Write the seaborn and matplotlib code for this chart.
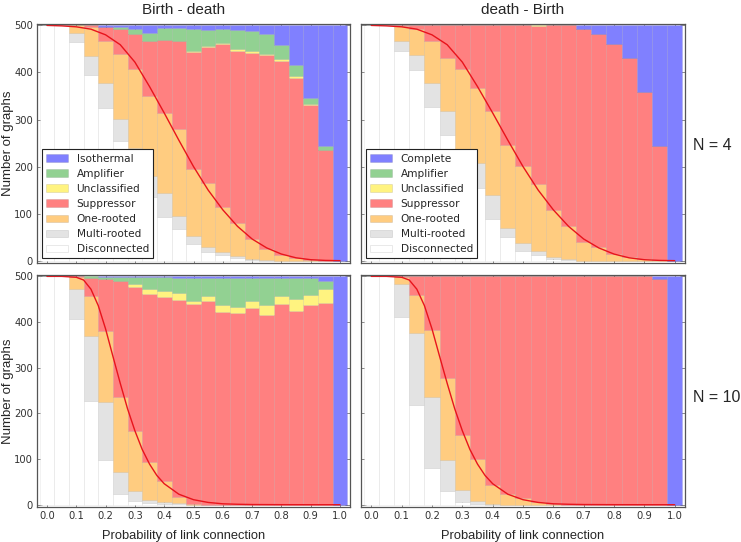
import matplotlib
matplotlib.use("Agg")
import matplotlib.pyplot as plt
import numpy as np
import pandas as pd
import seaborn as sns

# bin centres (probability of link connection)
link_prob = [0.0, 0.05, 0.1, 0.15, 0.2, 0.25, 0.3, 0.35, 0.4, 0.45, 0.5,
             0.55, 0.6, 0.65, 0.7, 0.75, 0.8, 0.85, 0.9, 0.95, 1.0]

# Birth - death, N = 4
bd4_disconnected = [500, 500, 465, 394, 324, 254, 190, 135, 92, 67, 35, 18, 11, 5, 2, 0, 0, 0, 0, 0, 0]
bd4_multi = [0, 0, 18, 41, 53, 47, 50, 45, 52, 28, 18, 10, 8, 4, 1, 1, 0, 0, 0, 0, 0]
bd4_one = [0, 0, 17, 62, 90, 138, 168, 169, 169, 185, 142, 137, 96, 71, 43, 24, 11, 5, 2, 0, 0]
bd4_suppressor = [0, 0, 0, 3, 30, 54, 74, 118, 155, 186, 249, 289, 346, 365, 395, 413, 413, 384, 329, 236, 0]
bd4_unclassified = [0, 0, 0, 0, 0, 0, 0, 0, 0, 0, 1, 2, 2, 4, 4, 2, 5, 3, 3, 0, 0]
bd4_amplifier = [0, 0, 0, 0, 0, 3, 11, 17, 26, 28, 48, 35, 30, 41, 43, 42, 29, 23, 11, 7, 0]
bd4_isothermal = [0, 0, 0, 0, 3, 4, 7, 16, 6, 6, 7, 9, 7, 10, 12, 18, 42, 85, 155, 257, 500]

# death - Birth, N = 4
db4_disconnected = [500, 500, 446, 405, 326, 268, 195, 155, 88, 51, 21, 11, 3, 1, 0, 0, 0, 0, 0, 0, 0]
db4_multi = [0, 0, 21, 32, 51, 50, 40, 53, 51, 19, 16, 9, 4, 2, 0, 0, 0, 0, 0, 0, 0]
db4_one = [0, 0, 31, 56, 90, 113, 172, 160, 179, 176, 165, 142, 101, 70, 40, 28, 14, 7, 4, 1, 0]
db4_suppressor = [0, 0, 2, 7, 33, 69, 93, 132, 182, 254, 298, 336, 392, 427, 453, 454, 447, 423, 355, 242, 0]
db4_unclassified = [0, 0, 0, 0, 0, 0, 0, 0, 0, 0, 0, 2, 0, 0, 0, 0, 0, 0, 0, 0, 0]
db4_amplifier = [0] * 21
db4_complete = [0, 0, 0, 0, 0, 0, 0, 0, 0, 0, 0, 0, 0, 0, 7, 18, 39, 70, 141, 257, 500]

# Birth - death, N = 10
bd10_disconnected = [500, 500, 407, 227, 97, 23, 9, 4, 2, 1, 0, 0, 0, 0, 0, 0, 0, 0, 0, 0, 0]
bd10_multi = [0, 0, 66, 143, 127, 49, 22, 7, 5, 2, 0, 0, 0, 0, 0, 0, 0, 0, 0, 0, 0]
bd10_one = [0, 0, 25, 86, 156, 164, 130, 83, 44, 13, 2, 0, 0, 0, 0, 0, 0, 0, 0, 0, 0]
bd10_suppressor = [0, 0, 2, 41, 115, 254, 316, 368, 404, 433, 438, 447, 422, 419, 430, 416, 440, 424, 438, 442, 0]
bd10_unclassified = [0, 0, 0, 0, 0, 0, 6, 11, 13, 14, 7, 9, 15, 15, 15, 22, 16, 27, 22, 31, 0]
bd10_amplifier = [0, 0, 0, 3, 3, 8, 16, 25, 31, 34, 50, 41, 60, 63, 52, 59, 41, 46, 37, 17, 0]
bd10_isothermal = [0, 0, 0, 0, 2, 2, 1, 2, 1, 3, 3, 3, 3, 3, 3, 3, 3, 3, 3, 10, 500]

# death - Birth, N = 10
db10_disconnected = [500, 500, 411, 219, 81, 31, 7, 2, 0, 0, 0, 0, 0, 0, 0, 0, 0, 0, 0, 0, 0]
db10_multi = [0, 0, 73, 158, 154, 66, 26, 7, 1, 0, 0, 0, 0, 0, 0, 0, 0, 0, 0, 0, 0]
db10_one = [0, 0, 14, 83, 148, 180, 119, 91, 42, 23, 15, 6, 2, 0, 0, 0, 0, 0, 0, 0, 0]
db10_suppressor = [0, 0, 2, 40, 117, 223, 348, 400, 457, 477, 485, 494, 498, 500, 500, 500, 500, 500, 500, 494, 0]
db10_unclassified = [0] * 21
db10_amplifier = [0] * 21
db10_complete = [0, 0, 0, 0, 0, 0, 0, 0, 0, 0, 0, 0, 0, 0, 0, 0, 0, 0, 0, 6, 500]

# red reference curves
curve4_p = [0.0, 0.05, 0.1, 0.15, 0.2, 0.25, 0.3, 0.35, 0.4, 0.45, 0.5,
            0.55, 0.6, 0.65, 0.7, 0.75, 0.8, 0.85, 0.9, 0.95, 1.0]
curve4_n = [500, 499, 497, 492, 480, 459, 422, 370, 314, 256, 200,
            150, 108, 73, 46, 27, 14, 6, 2, 0.5, 0]
curve10_p = [0.0, 0.05, 0.1, 0.125, 0.15, 0.175, 0.2, 0.225, 0.25, 0.275, 0.3,
             0.325, 0.35, 0.375, 0.4, 0.45, 0.5, 0.55, 0.6, 0.65, 0.7, 0.8, 0.9, 1.0]
curve10_n = [500, 500, 498, 492, 472, 436, 385, 325, 266, 210, 162,
             121, 89, 64, 46, 23, 11, 5, 2, 1, 0.4, 0.1, 0, 0]

palette = {
    "Isothermal": "#8080ff",
    "Complete": "#8080ff",
    "Amplifier": "#92d192",
    "Unclassified": "#fff380",
    "Suppressor": "#ff8080",
    "One-rooted": "#ffcc80",
    "Multi-rooted": "#e3e3e3",
    "Disconnected": "#ffffff",
}
EDGE = (0, 0, 0, 0.07)
W, H = 741, 542


def long_frame(series):
    rows = []
    for label, values in series.items():
        for p, n in zip(link_prob, values):
            rows.append({"p": p, "kind": label, "count": n})
    return pd.DataFrame(rows)


def draw_panel(ax, series, curve_p, curve_n, legend, bottom_row, left_col):
    frame = long_frame(series)
    order = list(series.keys())
    sns.histplot(data=frame, x="p", weights="count", hue="kind", hue_order=order,
                 multiple="stack", binwidth=0.05, binrange=(-0.025, 1.025),
                 palette=palette, alpha=1, linewidth=0.5, legend=legend, ax=ax)
    for patch in ax.patches:
        patch.set_alpha(None)
        patch.set_edgecolor(EDGE)
    sns.lineplot(x=curve_p, y=curve_n, color="#e8141c", lw=1.0, ax=ax)

    ax.set_xlim(-0.034, 1.034)
    ax.set_ylim(-5, 503)
    xt = np.arange(0, 1.01, 0.1)
    ax.set_xticks(xt)
    ax.set_xticklabels([f"{t:.1f}" for t in xt])
    ax.set_yticks([0, 100, 200, 300, 400, 500])
    ax.tick_params(labelbottom=bottom_row, labelleft=left_col, top=True, right=True,
                   direction="in", length=3.5, width=0.6, color="#777777",
                   labelsize=7.2, labelcolor="#333333", pad=3)
    for s in ax.spines.values():
        s.set_color("#555555")
        s.set_linewidth(0.9)
    ax.set_xlabel("Probability of link connection" if bottom_row else "",
                  fontsize=9.3, family="Liberation Sans", labelpad=6)
    ax.set_ylabel("Number of graphs" if left_col else "",
                  fontsize=9.5, family="Liberation Sans")
    if left_col:
        ax.xaxis.label.set_x(0.468)
        ax.yaxis.set_label_coords(-0.074, 0.5)

    if legend:
        sns.move_legend(ax, "lower left", title=None, frameon=True, fancybox=False,
                        edgecolor="#222222", framealpha=1, fontsize=7.6,
                        borderaxespad=0.45, handlelength=2.1, labelspacing=0.48)
        leg = ax.get_legend()
        leg.get_frame().set_linewidth(0.8)
        for h in leg.legend_handles:
            h.set_alpha(None)
            h.set_edgecolor((0, 0, 0, 0.12))


sns.set_style("ticks")
plt.rcParams["font.family"] = ["DejaVu Sans"]

fig = plt.figure(figsize=(W / 100, H / 100), dpi=100)


def px_axes(left, top, right, bottom):
    return fig.add_axes([left / W, 1 - bottom / H, (right - left) / W, (bottom - top) / H])


ax_tl = px_axes(37, 24, 350, 263)
ax_tr = px_axes(361, 24, 685, 263)
ax_bl = px_axes(37, 275, 350, 507)
ax_br = px_axes(361, 275, 685, 507)

draw_panel(ax_tl, {"Isothermal": bd4_isothermal, "Amplifier": bd4_amplifier,
                   "Unclassified": bd4_unclassified, "Suppressor": bd4_suppressor,
                   "One-rooted": bd4_one, "Multi-rooted": bd4_multi,
                   "Disconnected": bd4_disconnected},
           curve4_p, curve4_n, True, False, True)
draw_panel(ax_tr, {"Complete": db4_complete, "Amplifier": db4_amplifier,
                   "Unclassified": db4_unclassified, "Suppressor": db4_suppressor,
                   "One-rooted": db4_one, "Multi-rooted": db4_multi,
                   "Disconnected": db4_disconnected},
           curve4_p, curve4_n, True, False, False)
draw_panel(ax_bl, {"Isothermal": bd10_isothermal, "Amplifier": bd10_amplifier,
                   "Unclassified": bd10_unclassified, "Suppressor": bd10_suppressor,
                   "One-rooted": bd10_one, "Multi-rooted": bd10_multi,
                   "Disconnected": bd10_disconnected},
           curve10_p, curve10_n, False, True, True)
draw_panel(ax_br, {"Complete": db10_complete, "Amplifier": db10_amplifier,
                   "Unclassified": db10_unclassified, "Suppressor": db10_suppressor,
                   "One-rooted": db10_one, "Multi-rooted": db10_multi,
                   "Disconnected": db10_disconnected},
           curve10_p, curve10_n, False, True, False)

ax_tl.set_title("Birth - death", fontsize=11, family="Liberation Sans", pad=7.5, x=0.468)
ax_tr.set_title("death - Birth", fontsize=11, family="Liberation Sans", pad=7.5)
fig.text(712 / W, 1 - 145 / H, "N = 4", fontsize=11.5, family="Liberation Sans",
         ha="center", va="center")
fig.text(717 / W, 1 - 397 / H, "N = 10", fontsize=11.5, family="Liberation Sans",
         ha="center", va="center")

fig.savefig("out.png", dpi=100)
